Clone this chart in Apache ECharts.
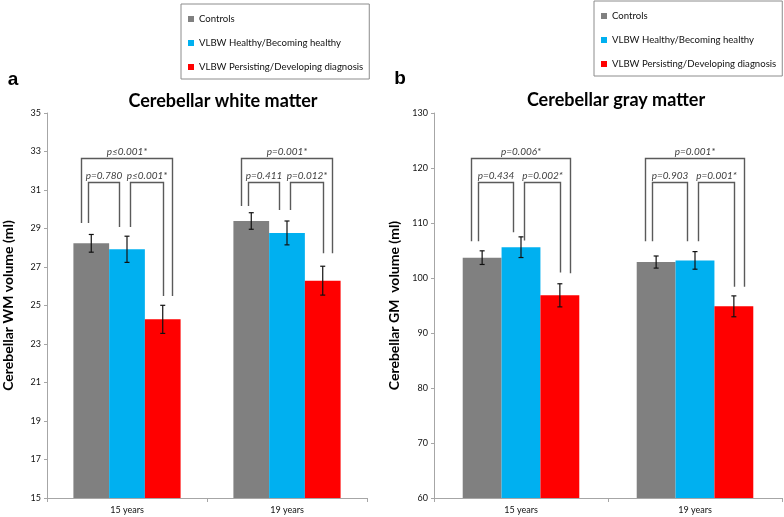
<!DOCTYPE html>
<html><head><meta charset="utf-8">
<script src="https://cdn.jsdelivr.net/npm/echarts@6/dist/echarts.min.js"></script>
<style>html,body{margin:0;padding:0;background:#fff}#c{width:784px;height:517px}</style>
</head><body><div id="c"></div>
<script>
// ---------- data ----------
const categories = ['15 years', '19 years'];
const seriesNames = ['Controls', 'VLBW Healthy/Becoming healthy', 'VLBW Persisting/Developing diagnosis'];

// Cerebellar white matter (ml)
const wmControls = [28.23, 29.39];
const wmControlsErr = [0.46, 0.43];
const wmHealthy = [27.92, 28.77];
const wmHealthyErr = [0.68, 0.62];
const wmDiagnosis = [24.28, 26.29];
const wmDiagnosisErr = [0.73, 0.75];

// Cerebellar gray matter (ml)
const gmControls = [103.7, 102.9];
const gmControlsErr = [1.24, 1.1];
const gmHealthy = [105.6, 103.2];
const gmHealthyErr = [1.88, 1.6];
const gmDiagnosis = [96.85, 94.85];
const gmDiagnosisErr = [2.1, 1.9];

// significance brackets: category, from bar, to bar, top, leg ends
const wmBracketLabels = ['p\u22640.001*', 'p=0.780', 'p\u22640.001*', 'p=0.001*', 'p=0.411', 'p=0.012*'];
const wmBracketCat = [0, 0, 0, 1, 1, 1];
const wmBracketFrom = [0, 0, 1, 0, 0, 1];
const wmBracketTo = [2, 1, 2, 2, 1, 2];
const wmBracketTop = [32.68, 31.42, 31.42, 32.68, 31.42, 31.42];
const wmBracketLegFrom = [29.29, 29.29, 29.08, 30.17, 30.17, 29.96];
const wmBracketLegTo = [25.49, 29.08, 25.49, 27.71, 29.96, 27.71];

const gmBracketLabels = ['p=0.006*', 'p=0.434', 'p=0.002*', 'p=0.001*', 'p=0.903', 'p=0.001*'];
const gmBracketCat = [0, 0, 0, 1, 1, 1];
const gmBracketFrom = [0, 0, 1, 0, 0, 1];
const gmBracketTo = [2, 1, 2, 2, 1, 2];
const gmBracketTop = [121.76, 117.4, 117.4, 121.76, 117.4, 117.4];
const gmBracketLegFrom = [106.7, 106.7, 106.8, 106.7, 106.7, 106.7];
const gmBracketLegTo = [100.85, 108.3, 101.0, 98.4, 106.7, 98.4];

const wmTicks = {min: 15, max: 35, interval: 2};
const gmTicks = {min: 60, max: 130, interval: 10};

// ---------- rendering ----------
const colors = ['#808080', '#00b0f0', '#ff0000'];
const GAP = 0.33;
const FONT = 'Lato';

function errRender(barIdx) {
  return function (params, api) {
    const cat = api.value(0), v = api.value(1), e = api.value(2);
    const band = api.size([1, 0])[0];
    const bw = band * (1 - GAP) / 3;
    const cx = api.coord([cat, v])[0] + (barIdx - 1) * bw;
    const yHi = api.coord([cat, v + e])[1];
    const yLo = api.coord([cat, v - e])[1];
    const st = {stroke: '#111', lineWidth: 1.2};
    return {type: 'group', children: [
      {type: 'line', shape: {x1: cx, y1: yHi, x2: cx, y2: yLo}, style: st},
      {type: 'line', shape: {x1: cx - 2.5, y1: yHi, x2: cx + 2.5, y2: yHi}, style: st},
      {type: 'line', shape: {x1: cx - 2.5, y1: yLo, x2: cx + 2.5, y2: yLo}, style: st}
    ]};
  };
}

function bracketRender(labels) {
  return function (params, api) {
    const cat = api.value(0), from = api.value(1), to = api.value(2);
    const top = api.value(3), l1 = api.value(4), l2 = api.value(5);
    const band = api.size([1, 0])[0];
    const bw = band * (1 - GAP) / 3;
    const cx = api.coord([cat, top])[0];
    const offs = (from === 0 && to === 2) ? [-0.29, 0.26] : (from === 0 ? [-0.10, -0.21] : [0.07, 0.0]);
    const x1 = Math.round(cx + (from - 1) * bw + offs[0] * bw) + 0.5;
    const x2 = Math.round(cx + (to - 1) * bw + offs[1] * bw) + 0.5;
    const yT = Math.round(api.coord([cat, top])[1]) + 0.5;
    const y1 = api.coord([cat, l1])[1];
    const y2 = api.coord([cat, l2])[1];
    return {type: 'group', children: [
      {type: 'polyline', shape: {points: [[x1, y1], [x1, yT], [x2, yT], [x2, y2]]},
        style: {stroke: '#5a5a5a', lineWidth: 1.4, fill: null}},
      {type: 'text', x: (x1 + x2) / 2, y: yT - 7,
        style: {text: labels[params.dataIndex], fill: '#404040', font: 'italic 10px ' + FONT,
          align: 'center', verticalAlign: 'middle'}}
    ]};
  };
}

function zip(a, b) { return a.map((v, i) => [i, v, b[i]]); }
function brackets(cat, from, to, top, l1, l2) {
  return cat.map((c, i) => [c, from[i], to[i], top[i], l1[i], l2[i]]);
}

const panels = [
  {vals: [wmControls, wmHealthy, wmDiagnosis], errs: [wmControlsErr, wmHealthyErr, wmDiagnosisErr],
   br: brackets(wmBracketCat, wmBracketFrom, wmBracketTo, wmBracketTop, wmBracketLegFrom, wmBracketLegTo),
   labels: wmBracketLabels},
  {vals: [gmControls, gmHealthy, gmDiagnosis], errs: [gmControlsErr, gmHealthyErr, gmDiagnosisErr],
   br: brackets(gmBracketCat, gmBracketFrom, gmBracketTo, gmBracketTop, gmBracketLegFrom, gmBracketLegTo),
   labels: gmBracketLabels}
];

const series = [];
panels.forEach((p, pi) => {
  p.vals.forEach((vals, si) => {
    series.push({type: 'bar', name: seriesNames[si], xAxisIndex: pi, yAxisIndex: pi,
      data: vals, barGap: 0, barCategoryGap: (GAP * 100) + '%',
      itemStyle: {color: colors[si]}, emphasis: {disabled: true}, silent: true, z: 2});
  });
  p.errs.forEach((errs, si) => {
    series.push({type: 'custom', xAxisIndex: pi, yAxisIndex: pi, renderItem: errRender(si),
      data: zip(p.vals[si], errs), encode: {x: 0, y: 1}, clip: false, silent: true, z: 5});
  });
  series.push({type: 'custom', xAxisIndex: pi, yAxisIndex: pi, renderItem: bracketRender(p.labels),
    data: p.br, encode: {x: 0, y: 3}, clip: false, silent: true, z: 6});
});

function xAxis(gi) {
  return {type: 'category', gridIndex: gi, data: categories,
    axisLine: {lineStyle: {color: '#a6a6a6', width: 1}},
    axisTick: {show: true, length: 4, lineStyle: {color: '#a6a6a6'}},
    axisLabel: {color: '#111', fontSize: 9, fontFamily: FONT, margin: 8}};
}
function yAxis(gi, t, name, gap) {
  return {type: 'value', gridIndex: gi, min: t.min, max: t.max, interval: t.interval,
    name: name, nameLocation: 'middle', nameGap: gap,
    nameTextStyle: {fontSize: 14, fontWeight: 'bold', fontFamily: FONT, color: '#000'},
    splitLine: {show: false},
    axisLine: {show: true, lineStyle: {color: '#a6a6a6', width: 1}},
    axisTick: {show: true, length: 3, lineStyle: {color: '#a6a6a6'}},
    axisLabel: {color: '#111', fontSize: 9, fontFamily: FONT, margin: 6}};
}

function legend(left, top) {
  return {data: seriesNames, orient: 'vertical', left: left, top: top,
    icon: 'rect', itemWidth: 6, itemHeight: 6, itemGap: 14,
    padding: [10, 6, 7, 7], borderColor: '#8c8c8c', borderWidth: 1, backgroundColor: '#fff',
    selectedMode: false,
    textStyle: {fontSize: 9.6, fontFamily: FONT, color: '#111'}};
}

const chart = echarts.init(document.getElementById('c'));
chart.setOption({
  animation: false,
  backgroundColor: '#fff',
  grid: [
    {left: 41, right: 417, top: 113, bottom: 19},
    {left: 434, right: 2, top: 113, bottom: 19}
  ],
  xAxis: [xAxis(0), xAxis(1)],
  yAxis: [yAxis(0, wmTicks, 'Cerebellar WM volume (ml)', 32),
          yAxis(1, gmTicks, 'Cerebellar GM  volume (ml)', 33)],
  legend: [legend(181, 4), legend(594, 1)],
  graphic: [
    {type: 'text', x: 223, y: 101, style: {text: 'Cerebellar white matter', font: 'bold 18px ' + FONT, fill: '#000', align: 'center', verticalAlign: 'middle'}},
    {type: 'text', x: 616, y: 100, style: {text: 'Cerebellar gray matter', font: 'bold 18px ' + FONT, fill: '#000', align: 'center', verticalAlign: 'middle'}},
    {type: 'text', x: 13, y: 80, style: {text: 'a', font: 'bold 19px "Liberation Sans"', fill: '#000', align: 'center', verticalAlign: 'middle'}},
    {type: 'text', x: 400, y: 79, style: {text: 'b', font: 'bold 19px "Liberation Sans"', fill: '#000', align: 'center', verticalAlign: 'middle'}}
  ],
  series: series
});
</script>
</body></html>
